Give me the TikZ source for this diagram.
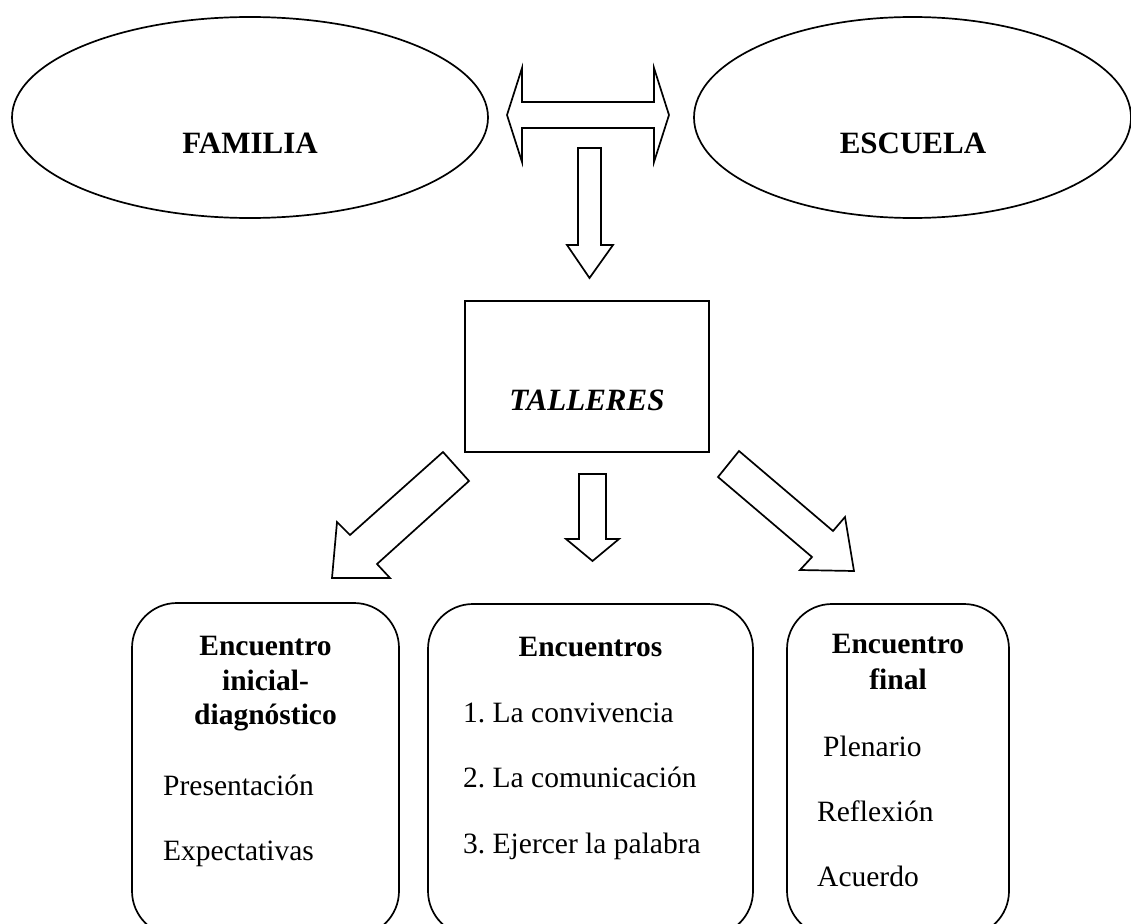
\documentclass[tikz,border=0pt]{standalone}
\usepackage{fontspec}
\setmainfont{Liberation Serif}
\usetikzlibrary{shapes.geometric}
\frenchspacing
\begin{document}
\begin{tikzpicture}[x=1pt,y=-1pt,
  outl/.style={draw=black,line width=1.7pt,line join=miter},
  oval/.style={outl,ellipse,inner sep=0pt},
  rbox/.style={outl,rounded corners=45pt},
  bigtxt/.style={inner sep=0pt,anchor=base,font=\fontsize{31}{36}\selectfont\bfseries},
  ttl/.style={inner sep=0pt,anchor=base,font=\fontsize{29.5}{34}\selectfont\bfseries},
  itm/.style={inner sep=0pt,anchor=base west,font=\fontsize{29.5}{34}\selectfont}]
\useasboundingbox (0,0) rectangle (1131,923);
\clip (0,0) rectangle (1131,923);
% ellipses
\node[oval,minimum width=476pt,minimum height=201pt] (fam) at (250,117.5) {};
\node[oval,minimum width=437pt,minimum height=201pt] (esc) at (912.5,117.5) {};
\node[bigtxt] (famt) at (250,153) {FAMILIA};
\node[bigtxt] (esct) at (913,153) {ESCUELA};
% double arrow
\draw[outl] (507,115) -- (522,68) -- (522,102) -- (654,102) -- (654,68) -- (669,115)
  -- (654,162) -- (654,128) -- (522,128) -- (522,162) -- cycle;
% down arrow 1
\draw[outl] (578,148) -- (601,148) -- (601,245) -- (613,245) -- (589.5,278) -- (567,245) -- (578,245) -- cycle;
% talleres box
\draw[outl] (465,301) rectangle (709,452);
\node[inner sep=0pt,anchor=base,font=\fontsize{31}{36}\selectfont\bfseries\itshape] (tal) at (587,410) {TALLERES};
% diagonal arrows
\draw[outl] (443,452) -- (350,535) -- (337,522) -- (332,578) -- (390,578) -- (377,564) -- (469,481) -- cycle;
\draw[outl] (592.5,474) -- (606,474) -- (606,539) -- (619,539) -- (592.5,561) -- (566,539) -- (579,539) -- (579,474) -- cycle;
\draw[outl] (739,451) -- (833,531) -- (845,517) -- (854,571) -- (800,570) -- (812,557) -- (718,477) -- cycle;
% bottom boxes
\draw[rbox] (132,603) rectangle (399,936);
\draw[rbox] (428,604) rectangle (753,936);
\draw[rbox] (787,604) rectangle (1009,936);
% left box text
\node[ttl] (l1) at (265.5,655) {Encuentro};
\node[ttl] (l2) at (265.5,690) {inicial-};
\node[ttl] (l3) at (265.5,724) {diagnóstico};
\node[itm] (l4) at (163,795) {Presentación};
\node[itm] (l5) at (163,860) {Expectativas};
% middle box text
\node[ttl] (m1) at (590.5,656) {Encuentros};
\node[itm] (m2) at (463,722) {1. La convivencia};
\node[itm] (m3) at (463,787) {2. La comunicación};
\node[itm] (m4) at (463,853) {3. Ejercer la palabra};
% right box text
\node[ttl] (r1) at (898,653) {Encuentro};
\node[ttl] (r2) at (898,689) {final};
\node[itm] (r3) at (823,756) {Plenario};
\node[itm] (r4) at (817,821) {Reflexión};
\node[itm] (r5) at (817,886) {Acuerdo};
\end{tikzpicture}
\end{document}
